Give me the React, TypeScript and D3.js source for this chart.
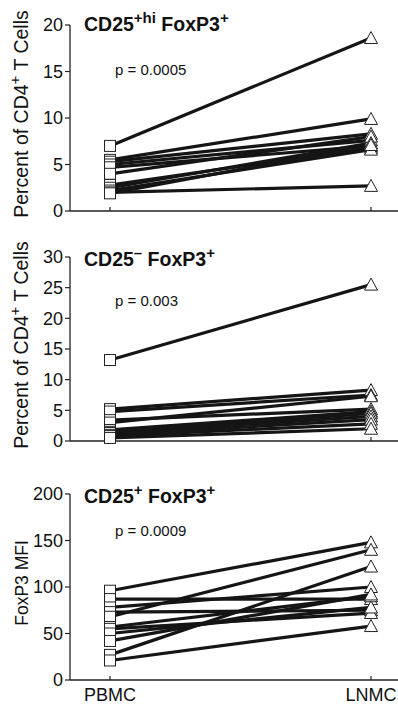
import React from "react";
import * as d3 from "d3";

const groups = ["PBMC", "LNMC"];

const hiPBMC = [7.0, 5.5, 5.3, 5.0, 4.7, 4.0, 2.8, 2.5, 2.2, 2.0, 1.9];
const hiLNMC = [18.6, 9.9, 8.3, 7.6, 7.0, 8.0, 6.8, 7.3, 6.6, 2.7, 7.1];
const hiTicks = [0, 5, 10, 15, 20];

const negPBMC = [13.2, 5.2, 4.8, 3.4, 3.0, 1.8, 1.5, 1.3, 1.0, 0.8, 0.5];
const negLNMC = [25.5, 8.3, 7.5, 5.2, 7.3, 4.8, 4.5, 4.0, 3.5, 2.8, 2.0];
const negTicks = [0, 5, 10, 15, 20, 25, 30];

const mfiPBMC = [96, 87, 78, 73, 68, 57, 55, 50, 42, 27, 21];
const mfiLNMC = [148, 87, 100, 75, 140, 90, 72, 78, 92, 122, 58];
const mfiTicks = [0, 50, 100, 150, 200];

const FONT = "Liberation Sans, Arial, Helvetica, sans-serif";

type PanelProps = {
  pre: number[];
  post: number[];
  ticks: number[];
  top: number;
  bottom: number;
  title: React.ReactNode;
  pText: string;
  pY: number;
  titleY: number;
  yLabel: React.ReactNode;
  yLabelSize: number;
  showX?: boolean;
};

const x = d3.scalePoint<string>().domain(groups).range([110, 371]);
const AXIS_X = 70;

function Panel(p: PanelProps) {
  const max = p.ticks[p.ticks.length - 1];
  const y = d3.scaleLinear().domain([0, max]).range([p.bottom, p.top]);
  const xa = x("PBMC")!;
  const xb = x("LNMC")!;
  const sq = 11;
  const tw = 13;
  const th = 11;
  const tri = (cx: number, cy: number) =>
    `M${cx},${cy - th / 2 - 1} L${cx + tw / 2},${cy + th / 2} L${cx - tw / 2},${cy + th / 2} Z`;
  const midY = (p.top + p.bottom) / 2 - 4;
  return (
    <g>
      <line x1={AXIS_X} x2={AXIS_X} y1={p.top} y2={p.bottom} stroke="#222" strokeWidth={1.3} />
      <line x1={AXIS_X} x2={398} y1={p.bottom} y2={p.bottom} stroke="#222" strokeWidth={1.3} />
      {p.ticks.map((t) => (
        <g key={t}>
          <line x1={AXIS_X - 5} x2={AXIS_X} y1={y(t)} y2={y(t)} stroke="#222" strokeWidth={1.2} />
          <text
            x={AXIS_X - 7}
            y={y(t)}
            dy="0.35em"
            textAnchor="end"
            fontSize={18}
            fontFamily={FONT}
            fill="#111"
          >
            {t}
          </text>
        </g>
      ))}
      {groups.map((g) => (
        <line key={g} x1={x(g)!} x2={x(g)!} y1={p.bottom - 4} y2={p.bottom} stroke="#222" strokeWidth={1.2} />
      ))}
      <text
        transform={`translate(28,${midY}) rotate(-90)`}
        textAnchor="middle"
        fontSize={p.yLabelSize}
        fontFamily={FONT}
        fill="#111"
      >
        {p.yLabel}
      </text>
      <text x={84} y={p.titleY} fontSize={19.5} fontWeight="bold" fontFamily={FONT} fill="#111">
        {p.title}
      </text>
      <text x={115} y={p.pY} fontSize={15} fontFamily={FONT} fill="#111">
        {p.pText}
      </text>
      {p.pre.map((v, i) => (
        <line
          key={"l" + i}
          x1={xa}
          y1={y(v)}
          x2={xb}
          y2={y(p.post[i])}
          stroke="#151515"
          strokeWidth={3.2}
        />
      ))}
      {p.pre.map((v, i) => (
        <rect
          key={"s" + i}
          x={xa - sq / 2}
          y={y(v) - sq / 2}
          width={sq}
          height={sq}
          fill="#fff"
          stroke="#222"
          strokeWidth={1}
        />
      ))}
      {p.post.map((v, i) => (
        <path key={"t" + i} d={tri(xb, y(v))} fill="#fff" stroke="#222" strokeWidth={1} />
      ))}
      {p.showX &&
        groups.map((g) => (
          <text
            key={"x" + g}
            x={x(g)!}
            y={p.bottom + 21}
            textAnchor="middle"
            fontSize={18}
            fontFamily={FONT}
            fill="#111"
          >
            {g}
          </text>
        ))}
    </g>
  );
}

const sup = (s: string) => (
  <tspan baselineShift="super" fontSize={15}>
    {s}
  </tspan>
);

export default function App() {
  const pctLabel = (
    <>
      Percent of CD4
      <tspan baselineShift="super" fontSize={15}>
        +
      </tspan>{" "}
      T Cells
    </>
  );
  return (
    <svg
      width={398}
      height={705}
      style={{ position: "absolute", left: 0, top: 0, background: "#fff" }}
    >
      <rect width={398} height={705} fill="#fff" />
      <Panel
        pre={hiPBMC}
        post={hiLNMC}
        ticks={hiTicks}
        top={25}
        bottom={211}
        titleY={31}
        title={
          <>
            CD25{sup("+hi")} FoxP3{sup("+")}
          </>
        }
        pText="p = 0.0005"
        pY={75}
        yLabel={pctLabel}
        yLabelSize={19.5}
      />
      <Panel
        pre={negPBMC}
        post={negLNMC}
        ticks={negTicks}
        top={257}
        bottom={441}
        titleY={266}
        title={
          <>
            CD25{sup("–")} FoxP3{sup("+")}
          </>
        }
        pText="p = 0.003"
        pY={306}
        yLabel={pctLabel}
        yLabelSize={19.5}
      />
      <Panel
        pre={mfiPBMC}
        post={mfiLNMC}
        ticks={mfiTicks}
        top={494}
        bottom={680}
        titleY={503}
        title={
          <>
            CD25{sup("+")} FoxP3{sup("+")}
          </>
        }
        pText="p = 0.0009"
        pY={536}
        yLabel="FoxP3 MFI"
        yLabelSize={17.5}
        showX
      />
    </svg>
  );
}
